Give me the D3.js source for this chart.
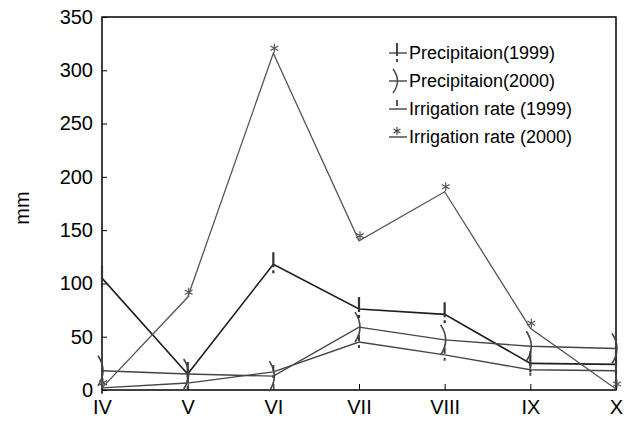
<!DOCTYPE html>
<html><head><meta charset="utf-8">
<script src="https://cdn.jsdelivr.net/npm/d3@7"></script>
<style>body{margin:0;background:#fff}svg{display:block}text{font-family:"Liberation Sans",Arial,sans-serif}</style>
</head><body><svg id="c" width="626" height="430"></svg>
<script>
const months = ["IV","V","VI","VII","VIII","IX","X"];
const precip1999 = [105, 15, 118, 76, 71, 25, 24];
const precip2000 = [18, 15, 13, 59, 47, 41, 39];
const irrig1999 = [2, 6.5, 17, 45, 33, 19, 18];
const irrig2000 = [2, 87, 316, 140, 186, 58, 1];
const yTicks = [0, 50, 100, 150, 200, 250, 300, 350];
const legendLabels = ["Precipitaion(1999)", "Precipitaion(2000)", "Irrigation rate (1999)", "Irrigation rate (2000)"];

const svg = d3.select("#c");
const L = 102, R = 616, T = 17, B = 390;
const x = d3.scalePoint().domain(months).range([L, R]);
const y = d3.scaleLinear().domain([0, 350]).range([B, T]);

svg.append("rect").attr("x", L).attr("y", T).attr("width", R - L).attr("height", B - T)
  .attr("fill", "none").attr("stroke", "#000").attr("stroke-width", 1.5);

const ya = svg.append("g").attr("transform", `translate(${L},0)`)
  .call(d3.axisLeft(y).tickValues(yTicks).tickSize(-5).tickPadding(9));
ya.select(".domain").remove();
ya.selectAll("line").attr("stroke", "#000");
ya.selectAll("text").attr("font-size", 20).attr("fill", "#000").attr("font-family", "Liberation Sans, Arial, sans-serif");

const xa = svg.append("g").attr("transform", `translate(0,${B})`)
  .call(d3.axisBottom(x).tickSize(-6).tickPadding(10));
xa.select(".domain").remove();
xa.selectAll("line").attr("stroke", "#000");
xa.selectAll("text").attr("font-size", 20).attr("fill", "#000").attr("font-family", "Liberation Sans, Arial, sans-serif");

svg.append("text").attr("transform", "translate(29,208) rotate(-90)")
  .attr("text-anchor", "middle").attr("font-size", 20).text("mm");

const line = d3.line().x((d, i) => x(months[i])).y(d => y(d));

const series = [
  {data: precip1999, color: "#1e1e1e", w: 1.6, m: "p99"},
  {data: precip2000, color: "#444", w: 1.4, m: "p00"},
  {data: irrig1999, color: "#444", w: 1.4, m: "i99"},
  {data: irrig2000, color: "#555", w: 1.3, m: "i00"}
];

function starPath(cx, cy, r) {
  let d = "";
  for (let k = 0; k < 3; k++) {
    const a = Math.PI / 2 + k * Math.PI / 3;
    d += `M${cx + r * Math.cos(a)},${cy + r * Math.sin(a)}L${cx - r * Math.cos(a)},${cy - r * Math.sin(a)}`;
  }
  return d;
}

function marker(g, type, cx, cy) {
  if (type === "p99") {
    g.append("path").attr("d", `M${cx},${cy - 12}L${cx},${cy + 3}M${cx},${cy + 6}L${cx},${cy + 9}`)
      .attr("stroke", "#333").attr("stroke-width", 2.2).attr("fill", "none");
  } else if (type === "p00") {
    g.append("path").attr("d", `M${cx - 4},${cy - 15}Q${cx + 6},${cy} ${cx - 4},${cy + 15}`)
      .attr("stroke", "#444").attr("stroke-width", 1.6).attr("fill", "none");
  } else if (type === "i99") {
    g.append("path").attr("d", `M${cx},${cy - 7}L${cx},${cy - 1}M${cx},${cy + 3}L${cx},${cy + 6}`)
      .attr("stroke", "#444").attr("stroke-width", 2).attr("fill", "none");
  } else {
    g.append("path").attr("d", starPath(cx + 1, cy - 5, 4.5))
      .attr("stroke", "#555").attr("stroke-width", 1.2).attr("fill", "none");
  }
}

series.forEach(s => {
  svg.append("path").datum(s.data).attr("d", line).attr("fill", "none")
    .attr("stroke", s.color).attr("stroke-width", s.w);
  const g = svg.append("g");
  s.data.forEach((v, i) => marker(g, s.m, x(months[i]), y(v)));
});

const lg = svg.append("g");
const ly = [53, 81, 109, 137];
legendLabels.forEach((t, i) => {
  const cy = ly[i];
  lg.append("line").attr("x1", 389).attr("x2", 407).attr("y1", cy).attr("y2", cy)
    .attr("stroke", "#333").attr("stroke-width", 1.3);
  if (i === 0) {
    lg.append("path").attr("d", `M397,${cy - 10}L397,${cy + 3}M397,${cy + 6}L397,${cy + 9}`).attr("stroke", "#333").attr("stroke-width", 1.8);
  } else if (i === 1) {
    lg.append("path").attr("d", `M393,${cy - 12}Q402,${cy} 393,${cy + 12}`).attr("stroke", "#444").attr("stroke-width", 1.4).attr("fill", "none");
  } else if (i === 2) {
    lg.append("path").attr("d", `M397,${cy - 9}L397,${cy - 3}`).attr("stroke", "#444").attr("stroke-width", 1.8);
  } else {
    lg.append("path").attr("d", starPath(397, cy - 6, 4)).attr("stroke", "#444").attr("stroke-width", 1.2).attr("fill", "none");
  }
  lg.append("text").attr("x", 409).attr("y", cy + 6).attr("font-size", 18).attr("fill", "#000").text(t);
});
</script></body></html>
